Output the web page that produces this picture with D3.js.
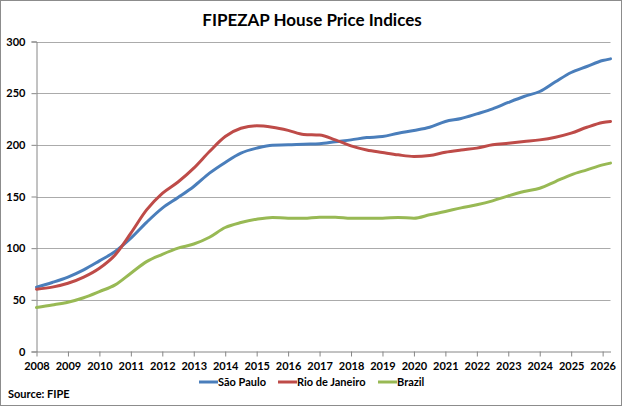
<!DOCTYPE html>
<html>
<head>
<meta charset="utf-8">
<script src="https://cdn.jsdelivr.net/npm/d3@7"></script>
<style>
    body { margin: 0; background: #fff; }
    text { font-family: Lato, "Liberation Sans", sans-serif; font-weight: bold; fill: #000; }
</style>
</head>
<body>
<div id="chart"></div>
<script>
// half-yearly readings (last point = early 2026)
const dates = [2008, 2008.5, 2009, 2009.5, 2010, 2010.5, 2011, 2011.5, 2012, 2012.5,
    2013, 2013.5, 2014, 2014.5, 2015, 2015.5, 2016, 2016.5, 2017, 2017.5,
    2018, 2018.5, 2019, 2019.5, 2020, 2020.5, 2021, 2021.5, 2022, 2022.5,
    2023, 2023.5, 2024, 2024.5, 2025, 2025.5, 2026, 2026.25];

const saoPaulo = [62.3, 66.8, 72, 79, 87.7, 96.8, 109.7, 125, 138.7, 149,
    159.7, 172.6, 183, 192, 196.8, 199.7, 200, 200.6, 201, 203,
    204.8, 207, 208, 211.3, 213.9, 217, 222.6, 225.5, 230, 234.8,
    241, 246.8, 251.6, 261, 270, 275.8, 281.6, 283.2];

const rioDeJaneiro = [60.3, 62.3, 66, 72, 80.6, 93.5, 114.5, 137, 153, 164,
    177.4, 193.5, 208, 216, 218.4, 217, 214, 210, 209.4, 204.8,
    199, 195, 192.6, 190.3, 188.7, 189.7, 192.9, 195, 196.8, 200,
    201.6, 203.2, 204.8, 207.4, 211.3, 217, 221.6, 222.6];

const brazil = [42.6, 45, 47.7, 52, 58, 64.5, 75.8, 87, 94, 100,
    104, 110.6, 120, 124.8, 128, 129.7, 129, 129, 130, 130,
    129, 129, 129, 129.7, 129, 132.3, 135.5, 139, 142, 145.8,
    150.6, 154.8, 158, 164.5, 171, 175.8, 180.6, 182.3];

const seriesNames = ['São Paulo', 'Rio de Janeiro', 'Brazil'];
const seriesColors = ['#4a7ebb', '#be4b48', '#98b954'];
const yTicks = [0, 50, 100, 150, 200, 250, 300];
const xTicks = [2008, 2009, 2010, 2011, 2012, 2013, 2014, 2015, 2016, 2017,
    2018, 2019, 2020, 2021, 2022, 2023, 2024, 2025, 2026];

const width = 624, height = 408;
const svg = d3.select('#chart').append('svg')
    .attr('width', width)
    .attr('height', height);

// outer frame
svg.append('rect')
    .attr('x', 0.5).attr('y', 0.5)
    .attr('width', 621).attr('height', 405)
    .attr('fill', '#fff')
    .attr('stroke', '#8c8c8c');

svg.append('text')
    .attr('x', 312).attr('y', 26)
    .attr('text-anchor', 'middle')
    .style('font-size', '17px')
    .text('FIPEZAP House Price Indices');

const x = d3.scaleLinear().domain([2008, 2026.25]).range([36.5, 610.5]);
const y = d3.scaleLinear().domain([0, 300]).range([351.5, 41.5]);

// gridlines
svg.append('g')
    .selectAll('line')
    .data(yTicks.slice(1))
    .enter().append('line')
    .attr('x1', x(2008)).attr('x2', x(2026.25))
    .attr('y1', d => Math.round(y(d)) + 0.5)
    .attr('y2', d => Math.round(y(d)) + 0.5)
    .attr('stroke', '#ababab');

// y axis
const yAxis = svg.append('g')
    .attr('transform', `translate(${x(2008)},0)`)
    .call(d3.axisLeft(y).tickValues(yTicks).tickSize(5).tickPadding(6));
yAxis.select('.domain').attr('stroke', '#868686');
yAxis.selectAll('.tick line').attr('stroke', '#868686');
yAxis.selectAll('text').style('font-size', '11px');

// x axis
const xAxis = svg.append('g')
    .attr('transform', `translate(0,${y(0)})`)
    .call(d3.axisBottom(x).tickValues(xTicks).tickFormat(d3.format('d')).tickSize(5).tickSizeOuter(0).tickPadding(6));
xAxis.select('.domain').attr('stroke', '#868686');
xAxis.selectAll('.tick line').attr('stroke', '#868686');
xAxis.selectAll('text').style('font-size', '11px');

// lines
const allSeries = [saoPaulo, rioDeJaneiro, brazil];
const line = d3.line()
    .curve(d3.curveMonotoneX)
    .x((d, i) => x(dates[i]))
    .y(d => y(d));

svg.append('g')
    .selectAll('path')
    .data(allSeries)
    .enter().append('path')
    .attr('d', line)
    .attr('fill', 'none')
    .attr('stroke', (d, i) => seriesColors[i])
    .attr('stroke-width', 3)
    .attr('stroke-linejoin', 'round')
    .attr('stroke-linecap', 'round');

// legend
const legendX = [199, 278, 378];
const legend = svg.append('g')
    .selectAll('g')
    .data(seriesNames)
    .enter().append('g')
    .attr('transform', (d, i) => `translate(${legendX[i]},386)`);
legend.append('line')
    .attr('x1', 0).attr('x2', 19)
    .attr('y1', -4).attr('y2', -4)
    .attr('stroke', (d, i) => seriesColors[i])
    .attr('stroke-width', 3);
legend.append('text')
    .attr('x', 19)
    .style('font-size', '11px')
    .text(d => d);

svg.append('text')
    .attr('x', 8).attr('y', 398)
    .style('font-size', '11px')
    .text('Source: FIPE');
</script>
</body>
</html>
